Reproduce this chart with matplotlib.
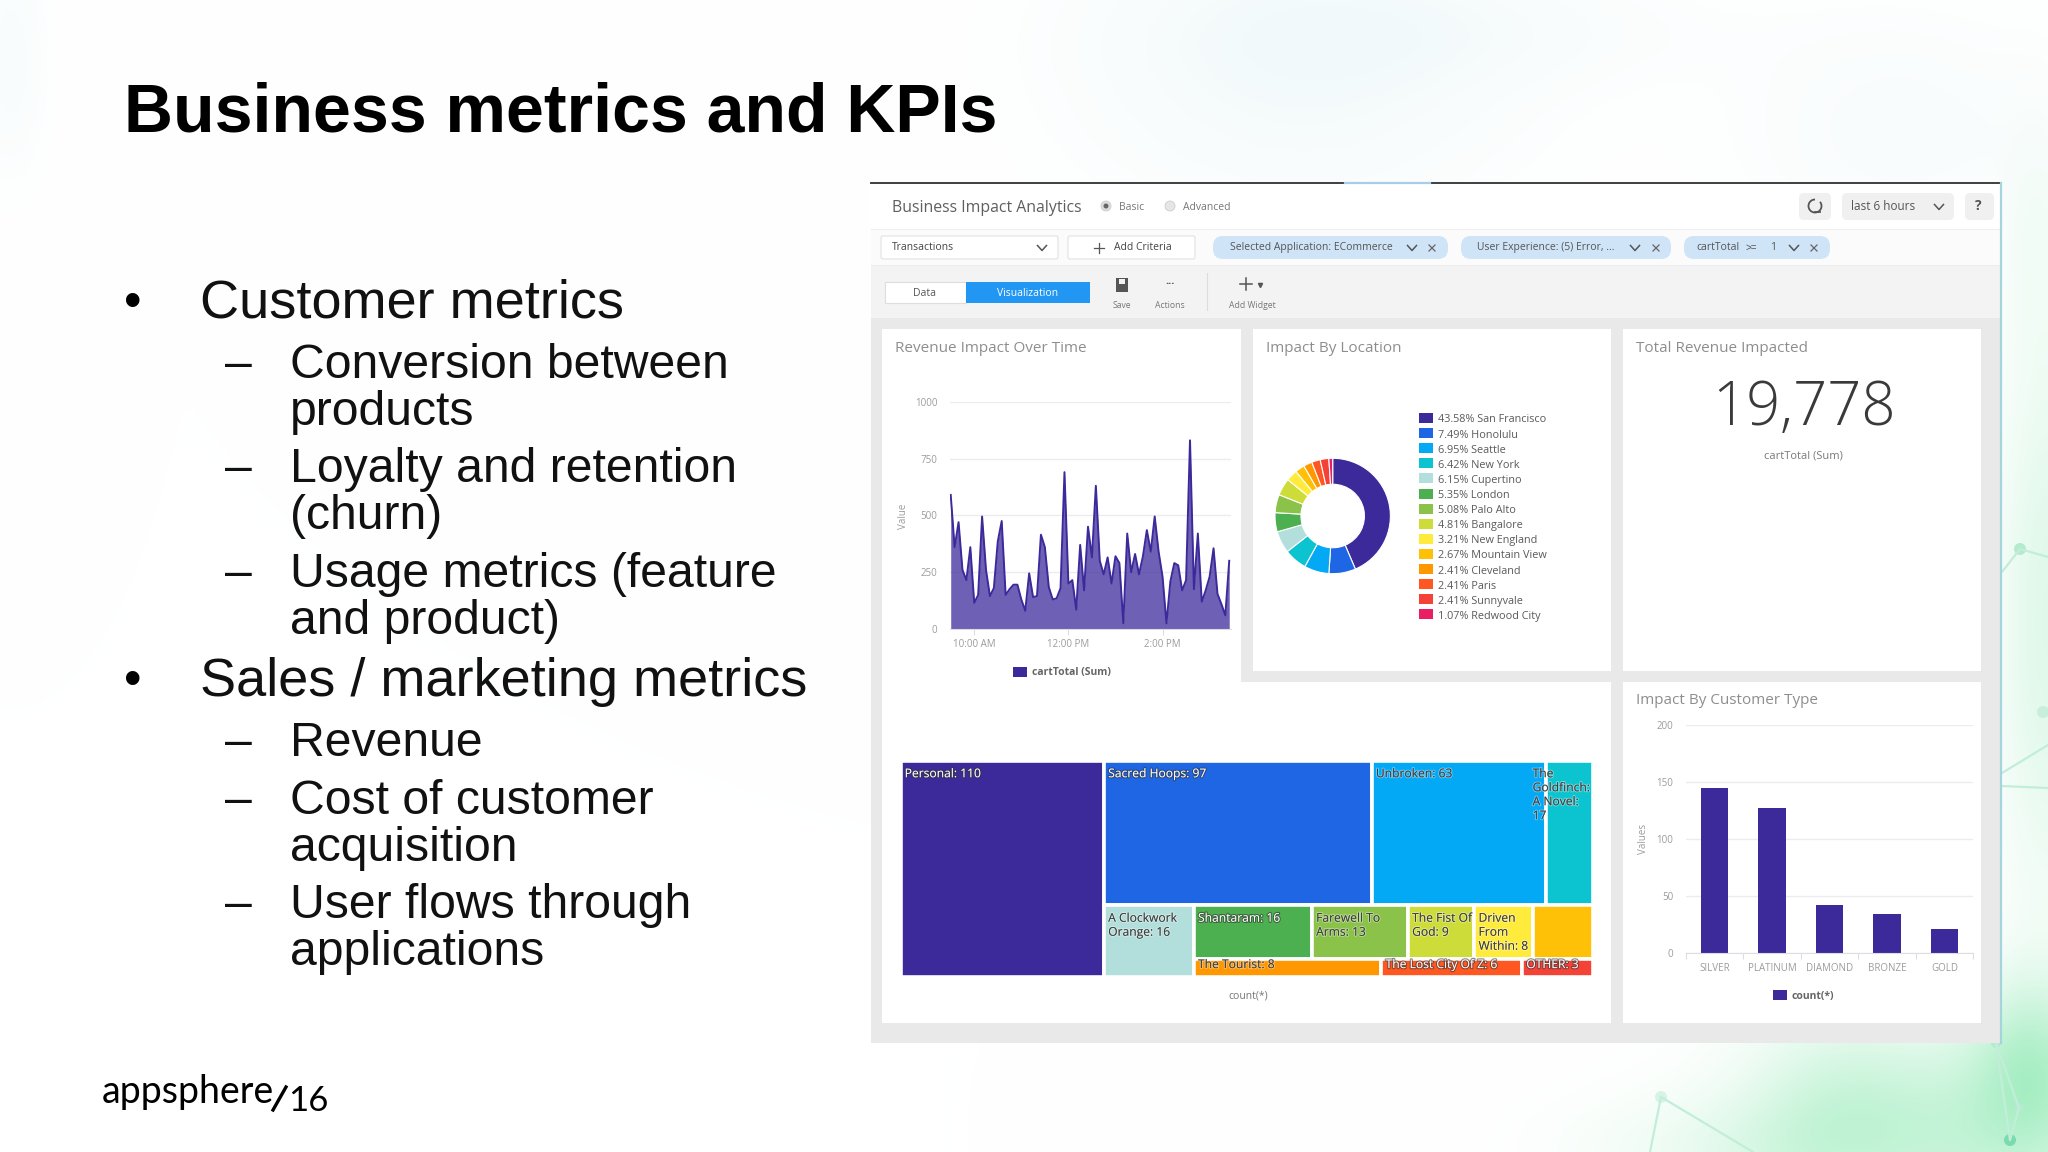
import matplotlib
matplotlib.use('Agg')
import matplotlib.pyplot as plt
import matplotlib.patheffects as pe
from matplotlib.patches import Rectangle, Circle, FancyBboxPatch, Arc
import numpy as np

W, H = 2048, 1152

# slide text
slide_title = 'Business metrics and KPIs'
bullets = [
    (0, 'Customer metrics', 318),
    (1, 'Conversion between', 378),
    (2, 'products', 425),
    (1, 'Loyalty and retention', 482),
    (2, '(churn)', 529),
    (1, 'Usage metrics (feature', 587),
    (2, 'and product)', 634),
    (0, 'Sales / marketing metrics', 696),
    (1, 'Revenue', 756),
    (1, 'Cost of customer', 814),
    (2, 'acquisition', 861),
    (1, 'User flows through', 918),
    (2, 'applications', 965),
]

# revenue impact over time, one value every 5 minutes
revenue = [590, 360, 470, 260, 215, 360, 115, 150, 495, 260, 145, 180,
           385, 475, 150, 175, 195, 195, 130, 80, 245, 140, 145, 415,
           360, 185, 130, 135, 180, 690, 200, 215, 85, 370, 170, 450,
           315, 630, 300, 240, 315, 200, 320, 290, 25, 420, 250, 330,
           240, 320, 435, 340, 495, 340, 230, 25, 210, 290, 280, 170,
           215, 830, 175, 420, 120, 170, 230, 355, 155, 110, 60, 300]
revenue_tick_idx = [6, 30, 54]
revenue_tick_labels = ['10:00 AM', '12:00 PM', '2:00 PM']
revenue_yticks = [0, 250, 500, 750, 1000]

# impact by location
locations = ['San Francisco', 'Honolulu', 'Seattle', 'New York', 'Cupertino', 'London',
             'Palo Alto', 'Bangalore', 'New England', 'Mountain View', 'Cleveland',
             'Paris', 'Sunnyvale', 'Redwood City']
location_pct = [43.58, 7.49, 6.95, 6.42, 6.15, 5.35, 5.08, 4.81, 3.21, 2.67, 2.41, 2.41, 2.41, 1.07]

palette = ['#3c2a9b', '#1f66e5', '#03a9f4', '#0cc4d0', '#b2dfdb', '#4caf50', '#8bc34a',
           '#cddc39', '#ffeb3b', '#ffc107', '#ff9800', '#ff5722', '#f44336', '#e91e63']

# treemap
book_labels = ['Personal: 110', 'Sacred Hoops: 97', 'Unbroken: 63', 'The\nGoldfinch:\nA Novel:\n17',
               'A Clockwork\nOrange: 16', 'Shantaram: 16', 'Farewell To\nArms: 13', 'The Fist Of\nGod: 9',
               'Driven\nFrom\nWithin: 8', '', 'The Tourist: 8', 'The Lost City Of Z: 6', 'OTHER: 3']
book_counts = [110, 97, 63, 17, 16, 16, 13, 9, 8, 8, 8, 6, 3]
book_tree = ('h', [0, ('v', [('h', [1, 2, 3]),
                             ('h', [4, ('v', [('h', [5, 6, 7, 8, 9]),
                                              ('h', [10, 11, 12])])])])])
light_labels = [0, 1, 5, 11, 12]

# customer type
customer_types = ['SILVER', 'PLATINUM', 'DIAMOND', 'BRONZE', 'GOLD']
customer_counts = [145, 127, 42, 34, 21]
customer_yticks = [0, 50, 100, 150, 200]

INDIGO = palette[0]
GRID = '#ececf0'
TICK = '#9b9b9b'
UI = 'Open Sans'
ARIAL = 'Liberation Sans'

fig = plt.figure(figsize=(W / 100, H / 100), dpi=100, facecolor='white')


def px_axes(x0, y0, x1, y1, **kw):
    return fig.add_axes([x0 / W, 1 - y1 / H, (x1 - x0) / W, (y1 - y0) / H], **kw)


# soft green/blue wash behind the slide
bg = px_axes(0, 0, W, H, zorder=0)
yy, xx = np.mgrid[0:H:2, 0:W:2]
blobs = [(2048, 620, 35, 200, 0.2), (1960, 1130, 120, 70, 0.34), (2030, 1060, 40, 60, 0.34),
         (1830, 1110, 60, 70, 0.16), (1760, 1150, 70, 40, 0.1), (1650, 1150, 80, 40, 0.05),
         (2035, 240, 25, 80, 0.05)]
pale = [(1300, 60, 150, 100, 0.07), (1900, 130, 110, 80, 0.04), (1450, 30, 180, 40, 0.03),
        (10, 60, 25, 80, 0.04)]
green = sum(a * np.exp(-((xx - x) / sx) ** 2 / 2 - ((yy - y) / sy) ** 2 / 2) for x, y, sx, sy, a in blobs)
blue = sum(a * np.exp(-((xx - x) / sx) ** 2 / 2 - ((yy - y) / sy) ** 2 / 2) for x, y, sx, sy, a in pale)
img = np.ones(xx.shape + (3,))
for c, (g, b) in enumerate(zip((0.62, 0.12, 0.42), (0.6, 0.25, 0.2))):
    img[..., c] -= np.clip(green, 0, 1) * g + np.clip(blue, 0, 1) * b
bg.imshow(np.clip(img, 0, 1), extent=(0, W, H, 0), aspect='auto', interpolation='bilinear')
bg.set_xlim(0, W)
bg.set_ylim(H, 0)
bg.axis('off')
net = '#c2eed9'
for seg in [((1661, 1097), (1650, 1152)), ((1661, 1097), (1753, 1152)), ((1996, 1043), (2010, 1140)),
            ((1996, 1043), (2019, 1108)), ((2019, 1108), (2010, 1140)), ((2002, 572), (2020, 549)),
            ((2020, 549), (2048, 557)), ((2002, 773), (2048, 745)), ((2002, 786), (2048, 788))]:
    bg.plot(*zip(*seg), color=net, lw=1.6, solid_capstyle='round')
for x, y, r, c in [(1661, 1097, 6, '#d6f3e5'), (2010, 1140, 6, '#7adcae'), (2019, 1108, 5, '#b4eace'),
                   (2020, 549, 6, '#b4eace'), (2043, 712, 6, '#c8efdc'), (1996, 1043, 5, '#b4eace')]:
    bg.add_patch(Circle((x, y), r, color=c, lw=0))

# page layer in pixel coordinates
page = px_axes(0, 0, W, H, zorder=1)
page.set_xlim(0, W)
page.set_ylim(H, 0)
page.axis('off')
page.patch.set_alpha(0)


def box(x0, y0, x1, y1, fc, ec='none', lw=0.8, z=1):
    page.add_patch(Rectangle((x0, y0), x1 - x0, y1 - y0, fc=fc, ec=ec, lw=lw, zorder=z))


def pill(x0, y0, x1, y1, fc, ec='none', rad=5):
    page.add_patch(FancyBboxPatch((x0 + rad, y0 + rad), x1 - x0 - 2 * rad, y1 - y0 - 2 * rad,
                                  boxstyle=f'round,pad={rad}', fc=fc, ec=ec, lw=0.8, zorder=3))


def ui(x, y, s, size=7, color='#555555', ha='left', va='center', **kw):
    kw.setdefault('family', UI)
    page.text(x, y + 2, s, fontsize=size, color=color, ha=ha, va=va, zorder=6, **kw)


def chevron(x, y, color='#555555'):
    page.plot([x - 4.5, x, x + 4.5], [y - 2.5, y + 2.5, y - 2.5], color=color, lw=1.1, zorder=6)


def cross(x, y, color='#666666'):
    page.plot([x - 3, x + 3], [y - 3, y + 3], color=color, lw=0.9, zorder=6)
    page.plot([x - 3, x + 3], [y + 3, y - 3], color=color, lw=0.9, zorder=6)


# left column text
page.text(124, 131, slide_title, family=ARIAL, weight='bold', fontsize=49, color='black', va='baseline')
for level, line, base in bullets:
    if level == 0:
        page.text(124, base - 1, '•', family=ARIAL, fontsize=36, color='black', va='baseline')
        page.text(200, base, line, family=ARIAL, fontsize=39, color='#111111', va='baseline')
    else:
        if level == 1:
            page.text(225, base, '–', family=ARIAL, fontsize=34.7, color='#111111', va='baseline')
        page.text(290, base, line, family=ARIAL, fontsize=34.7, color='#111111', va='baseline')

# logo
page.text(102, 1103, 'appsphere', family='Lato', fontsize=27, color='black', va='baseline')
page.plot([273, 286], [1110, 1087], color='black', lw=2.4)
page.text(288, 1111, '16', family='Lato', fontsize=25, color='black', va='baseline')

# dashboard chrome
box(871, 183, 2001, 1043, '#e9e9ea')
box(871, 183, 2001, 229, 'white')
box(871, 229, 2001, 265, '#fbfbfb')
box(871, 265, 2001, 318, '#f3f3f3')
page.plot([871, 2001], [183, 183], color='#3f3f3f', lw=1.4, zorder=4)
page.plot([1345, 1430], [183, 183], color='#a8cdeb', lw=1.6, zorder=5)
page.plot([2001, 2001], [183, 1043], color='#a5d5dc', lw=1.6, zorder=5)
page.plot([871, 2001], [229, 229], color='#eeeeee', lw=0.8, zorder=4)
page.plot([871, 2001], [265, 265], color='#eeeeee', lw=0.8, zorder=4)

ui(892, 205.5, 'Business Impact Analytics', size=11.4, color='#5f5f5f')
page.add_patch(Circle((1106, 206), 5, fc='#dddddd', ec='#cccccc', lw=0.6, zorder=5))
page.add_patch(Circle((1106, 206), 2.5, fc='#666666', lw=0, zorder=6))
ui(1119, 206, 'Basic', size=7.5, color='#777777')
page.add_patch(Circle((1170, 206), 5, fc='#e6e6e6', ec='#cccccc', lw=0.6, zorder=5))
ui(1183, 206, 'Advanced', size=7.5, color='#777777')

pill(1799, 193, 1831, 220, '#f0f0f0')
page.add_patch(Arc((1815, 206), 13, 13, theta1=-40, theta2=270, color='#555555', lw=1.3, zorder=6))
page.plot([1815, 1820], [212, 212], color='#555555', lw=1.3, zorder=6)
pill(1842, 193, 1954, 220, '#f0f0f0')
ui(1851, 204.5, 'last 6 hours', size=8.5)
chevron(1939, 207)
pill(1965, 193, 1994, 220, '#f0f0f0')
ui(1978, 204.5, '?', size=10, ha='center', weight='bold')

pill(881, 236, 1058, 259, 'white', ec='#e2e2e2', rad=2)
ui(892, 245.5, 'Transactions', size=7.5, color='#444444')
chevron(1042, 248)
pill(1068, 236, 1195, 259, 'white', ec='#e2e2e2', rad=2)
page.plot([1094, 1104], [247.5, 247.5], color='#555555', lw=0.9, zorder=6)
page.plot([1099, 1099], [242.5, 252.5], color='#555555', lw=0.9, zorder=6)
ui(1114, 245.5, 'Add Criteria', size=7.5, color='#444444')

chip = '#cfe4f7'
pill(1213, 236, 1448, 259, chip, rad=10)
ui(1230, 245.5, 'Selected Application: ECommerce', size=7.5)
chevron(1412, 248)
cross(1432, 248)
pill(1461, 236, 1671, 259, chip, rad=10)
ui(1477, 245.5, 'User Experience: (5) Error, ...', size=7.5)
chevron(1635, 248)
cross(1656, 248)
pill(1684, 236, 1830, 259, chip, rad=10)
ui(1696, 245.5, 'cartTotal', size=7.5)
ui(1746, 245.5, '>=', size=7, family=ARIAL)
ui(1770, 245.5, '1', size=7.5)
chevron(1794, 248)
cross(1814, 248)

box(885, 282, 966, 303, 'white', ec='#dddddd')
ui(925, 291, 'Data', size=7.5, ha='center')
box(966, 282, 1090, 303, '#2196f3')
ui(1028, 291, 'Visualization', size=7.5, color='white', ha='center')
box(1116, 278, 1128, 292, '#555555')
box(1119, 279, 1125, 284, '#f3f3f3', z=2)
ui(1122, 304, 'Save', size=6.2, color='#777777', ha='center')
ui(1170, 280, '...', size=8, ha='center', weight='bold')
ui(1170, 304, 'Actions', size=6.2, color='#777777', ha='center')
page.plot([1207, 1207], [273, 310], color='#dddddd', lw=0.8, zorder=4)
page.plot([1240, 1252], [284, 284], color='#555555', lw=1.1, zorder=6)
page.plot([1246, 1246], [278, 290], color='#555555', lw=1.1, zorder=6)
page.plot([1260], [285], marker='v', ms=3, color='#555555', zorder=6)
ui(1252, 304, 'Add Widget', size=6.2, color='#777777', ha='center')

# widget cards
for x0, y0, x1, y1 in [(882, 329, 1241, 682), (1253, 329, 1611, 671), (1623, 329, 1981, 671),
                       (882, 682, 1611, 1023), (1623, 682, 1981, 1023)]:
    box(x0, y0, x1, y1, 'white', z=2)
for x, y, s in [(895, 347, 'Revenue Impact Over Time'), (1266, 347, 'Impact By Location'),
                (1636, 347, 'Total Revenue Impacted'), (1636, 699, 'Impact By Customer Type')]:
    ui(x, y, s, size=11, color='#8e8e8e')

# revenue area chart
ax = px_axes(950, 401.7, 1231, 629, zorder=2)
ax.patch.set_alpha(0)
idx = np.arange(len(revenue))
ax.fill_between(idx, revenue, color='#3c2a9b', alpha=0.74, lw=0)
ax.plot(idx, revenue, color=INDIGO, lw=1.4)
ax.set_xlim(-0.18, 71.45)
ax.set_ylim(0, 1000)
ax.set_yticks(revenue_yticks)
ax.set_xticks(revenue_tick_idx, labels=revenue_tick_labels)
ax.grid(axis='y', color=GRID, lw=1)
ax.set_axisbelow(True)
for s in ['top', 'right', 'left']:
    ax.spines[s].set_visible(False)
ax.spines['bottom'].set_color('#dcdce4')
ax.tick_params(axis='y', length=0, pad=9, labelsize=7, labelcolor=TICK)
ax.tick_params(axis='x', length=4, color='#dcdce4', pad=3, labelsize=7, labelcolor=TICK)
for t in ax.get_xticklabels() + ax.get_yticklabels():
    t.set_family(UI)
ui(903, 514, 'Value', size=7, color=TICK, ha='center', rotation=90)
box(1013, 667, 1027, 677, INDIGO, z=5)
ui(1032, 671, 'cartTotal (Sum)', size=7.5, color='#666666', weight='bold')

# donut
dn = px_axes(1262.7, 446, 1402.7, 586, zorder=2)
dn.pie(location_pct, colors=palette, startangle=90, counterclock=False, radius=1,
       wedgeprops=dict(width=0.45, edgecolor='white', linewidth=0.8))
dn.set_xlim(-70 / 57.7, 70 / 57.7)
dn.set_ylim(-70 / 57.7, 70 / 57.7)
for i, (name, pct) in enumerate(zip(locations, location_pct)):
    y = 418 + i * 15.1
    box(1419, y - 5, 1433, y + 5, palette[i], z=4)
    ui(1438, y, f'{pct:.2f}% {name}', size=7.8, color='#5a5a5a')

# total number
ui(1804, 407, '19,778', size=43, color='#3a3a3a', ha='center', weight='light')
ui(1803, 454, 'cartTotal (Sum)', size=8, color='#7a7a7a', ha='center')


# treemap laid out from the counts
def node_size(node):
    if isinstance(node, int):
        return book_counts[node]
    return sum(node_size(n) for n in node[1])


def lay_out(node, x, y, w, h, out):
    if isinstance(node, int):
        out[node] = (x, y, w, h)
        return
    total = node_size(node)
    for child in node[1]:
        share = node_size(child) / total
        if node[0] == 'h':
            lay_out(child, x, y, w * share, h, out)
            x += w * share
        else:
            lay_out(child, x, y, w, h * share, out)
            y += h * share


rects = {}
lay_out(book_tree, 0, 0, 1, 1, rects)
tx0, ty0, tx1, ty1 = 900.5, 761, 1592.5, 976.5
tm = px_axes(tx0, ty0, tx1, ty1, zorder=2)
tm.set_xlim(0, 1)
tm.set_ylim(1, 0)
tm.axis('off')
tm.patch.set_alpha(0)
for i, label in enumerate(book_labels):
    x, y, w, h = rects[i]
    tm.bar(x, h, w, bottom=y, align='edge', color=palette[i], edgecolor='white', linewidth=2.6, clip_on=False)
for i, label in enumerate(book_labels):
    x, y, w, h = rects[i]
    if i in light_labels:
        color, effect = 'white', [pe.withStroke(linewidth=1.6, foreground='#33333399')]
    else:
        color, effect = '#3d3d3d', [pe.withStroke(linewidth=1.4, foreground='#ffffff66')]
    small = h * (ty1 - ty0) < 22
    if i == 3:
        # narrow cell, the block is pushed left over its neighbour
        anchor, off, ha = (x + w, y), (-2, -4.5), 'right'
    elif small:
        anchor, off, ha = (x, y), (3, 1), 'left'
    else:
        anchor, off, ha = (x, y), (3, -4.5), 'left'
    tm.annotate(label, anchor, xytext=off, textcoords='offset points', ha=ha, va='top', multialignment='left',
                fontsize=8.7, family=UI, color=color, linespacing=1.1, path_effects=effect, zorder=5,
                annotation_clip=False)
ui(1248, 994, 'count(*)', size=7.5, color='#777777', ha='center')

# customer bars
bx = px_axes(1685.7, 725, 1973.3, 953.3, zorder=2)
bx.patch.set_alpha(0)
bx.bar(range(len(customer_counts)), customer_counts, width=0.48, color=INDIGO)
bx.set_xlim(-0.5, 4.5)
bx.set_ylim(0, 200)
bx.set_yticks(customer_yticks)
bx.set_xticks(np.arange(-0.5, 5))
bx.set_xticklabels([])
bx.set_xticks(range(5), labels=customer_types, minor=True)
bx.grid(axis='y', color=GRID, lw=1)
bx.set_axisbelow(True)
for s in ['top', 'right', 'left']:
    bx.spines[s].set_visible(False)
bx.spines['bottom'].set_color('#dcdce4')
bx.tick_params(axis='y', length=0, pad=9, labelsize=7, labelcolor=TICK)
bx.tick_params(axis='x', which='major', length=4.5, color='#dcdce4')
bx.tick_params(axis='x', which='minor', length=0, pad=7, labelsize=7, labelcolor=TICK)
for t in bx.get_yticklabels() + bx.get_xminorticklabels():
    t.set_family(UI)
ui(1644, 837, 'Values', size=7, color=TICK, ha='center', rotation=90)
box(1773, 990, 1787, 1000, INDIGO, z=5)
ui(1791, 994, 'count(*)', size=7.5, color='#666666', weight='bold')

fig.savefig('out.png', dpi=100)
